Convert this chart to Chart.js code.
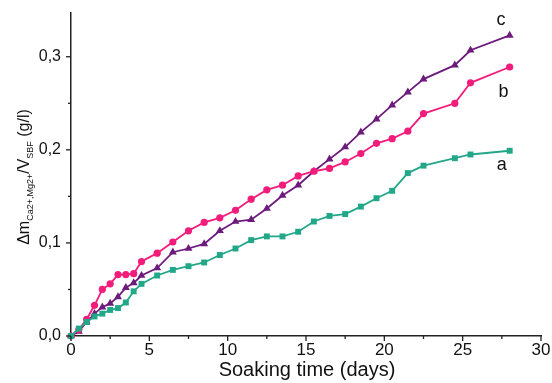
<!DOCTYPE html>
<html>
<head>
<meta charset="utf-8">
<script src="https://cdn.jsdelivr.net/npm/chart.js@4/dist/chart.umd.min.js"></script>
<style>
  html, body { margin: 0; padding: 0; background: #fff; }
  canvas { display: block; }
</style>
</head>
<body>
<canvas id="chart" width="552" height="383"></canvas>
<script>
// soaking time (days), shared by the three curves
const days = [0, 0.5, 1, 1.5, 2, 2.5, 3, 3.5, 4, 4.5, 5.5, 6.5, 7.5, 8.5, 9.5, 10.5,
  11.5, 12.5, 13.5, 14.5, 15.5, 16.5, 17.5, 18.5, 19.5, 20.5, 21.5, 22.5, 24.5, 25.5, 28];

// Δm / V (g/l)
const seriesA = [0, 0.008, 0.015, 0.021, 0.024, 0.028, 0.030, 0.036, 0.048, 0.056, 0.065,
  0.071, 0.075, 0.079, 0.087, 0.094, 0.103, 0.107, 0.107, 0.112, 0.123, 0.129, 0.131,
  0.139, 0.148, 0.156, 0.175, 0.183, 0.191, 0.195, 0.199];
const seriesB = [0, 0.007, 0.018, 0.033, 0.050, 0.056, 0.066, 0.066, 0.067, 0.080, 0.089,
  0.101, 0.113, 0.122, 0.127, 0.135, 0.147, 0.157, 0.162, 0.172, 0.177, 0.180, 0.187,
  0.196, 0.207, 0.212, 0.220, 0.239, 0.250, 0.272, 0.289];
const seriesC = [0, 0.005, 0.015, 0.024, 0.031, 0.035, 0.042, 0.052, 0.057, 0.065, 0.073,
  0.090, 0.094, 0.099, 0.113, 0.123, 0.125, 0.137, 0.151, 0.162, 0.177, 0.190, 0.203,
  0.219, 0.233, 0.248, 0.262, 0.276, 0.291, 0.307, 0.323];

const curveNames = ["a", "b", "c"];
const xTitle = "Soaking time (days)";

const fontFamily = "'Liberation Sans', Arial, sans-serif";
const colors = ["#22a889", "#f21c7b", "#6c1a7c"];

// where the a/b/c labels sit, in data units
const labelAt = [[27.5, 0.184], [27.6, 0.262], [27.45, 0.339]];

function toPoints(vals) {
  return days.map((d, i) => ({ x: d, y: vals[i] }));
}

const onStep = (v, step) => Math.abs(v / step - Math.round(v / step)) < 1e-6;

// tick marks (major + minor) and text that Chart.js can't do natively
const extras = {
  id: "extras",
  afterDraw(chart) {
    const { ctx, scales: { x, y } } = chart;
    ctx.save();
    ctx.strokeStyle = "#222";
    ctx.lineWidth = 1.3;
    x.ticks.forEach(t => {
      const px = x.getPixelForValue(t.value);
      const len = onStep(t.value, 5) ? 5 : 3;
      ctx.beginPath();
      ctx.moveTo(px, x.top);
      ctx.lineTo(px, x.top + len);
      ctx.stroke();
    });
    y.ticks.forEach(t => {
      const py = y.getPixelForValue(t.value);
      const len = onStep(t.value, 0.1) ? 5 : 3;
      ctx.beginPath();
      ctx.moveTo(y.right, py);
      ctx.lineTo(y.right - len, py);
      ctx.stroke();
    });

    // curve labels
    ctx.fillStyle = "#111";
    ctx.font = "18px " + fontFamily;
    ctx.textAlign = "center";
    ctx.textBaseline = "middle";
    curveNames.forEach((n, i) => {
      ctx.fillText(n, x.getPixelForValue(labelAt[i][0]), y.getPixelForValue(labelAt[i][1]));
    });

    // x title
    ctx.font = "20px " + fontFamily;
    ctx.textBaseline = "alphabetic";
    ctx.fillText(xTitle, (chart.chartArea.left + chart.chartArea.right) / 2 + 1, 376);

    // y title with subscripts
    const parts = [["\u0394m", 16, 0], ["Ca2+,Mg2+", 9, 4], ["/V", 16, 0], ["SBF", 9, 4], [" (g/l)", 16, 0]];
    let total = 0;
    parts.forEach(p => { ctx.font = p[1] + "px " + fontFamily; total += ctx.measureText(p[0]).width; });
    ctx.translate(29, 177);
    ctx.rotate(-Math.PI / 2);
    ctx.textAlign = "left";
    let cx = -total / 2;
    parts.forEach(p => {
      ctx.font = p[1] + "px " + fontFamily;
      ctx.fillText(p[0], cx, p[2]);
      cx += ctx.measureText(p[0]).width;
    });
    ctx.restore();
  }
};

const markers = ["rect", "circle", "triangle"];
const radii = [4.2, 3.6, 4.6];

new Chart(document.getElementById("chart"), {
  type: "line",
  data: {
    datasets: [seriesA, seriesB, seriesC].map((s, i) => ({
      label: curveNames[i],
      data: toPoints(s),
      borderColor: colors[i],
      backgroundColor: colors[i],
      borderWidth: 1.8,
      pointStyle: markers[i],
      pointRadius: radii[i],
      pointBorderWidth: 0,
      tension: 0,
      clip: false
    }))
  },
  options: {
    responsive: false,
    animation: false,
    layout: { padding: { top: 13, right: 11, left: 0, bottom: 0 } },
    plugins: { legend: { display: false }, tooltip: { enabled: false } },
    scales: {
      x: {
        type: "linear",
        min: 0, max: 30,
        afterFit: s => { s.height = 47; s.paddingLeft = 0; s.paddingRight = 0; },
        grid: { drawOnChartArea: false, drawTicks: false },
        border: { color: "#222", width: 1.5 },
        ticks: {
          stepSize: 2.5,
          padding: 4,
          color: "#111",
          font: { family: fontFamily, size: 17 },
          callback: v => onStep(v, 5) ? String(v) : ""
        }
      },
      y: {
        min: 0, max: 0.347,
        afterFit: s => { s.width = 71; s.paddingTop = 0; s.paddingBottom = 0; },
        afterBuildTicks: s => { s.ticks = s.ticks.filter(t => onStep(t.value, 0.05)); },
        grid: { drawOnChartArea: false, drawTicks: false },
        border: { color: "#222", width: 1.5 },
        ticks: {
          stepSize: 0.05,
          padding: 10,
          color: "#111",
          font: { family: fontFamily, size: 16 },
          callback: v => onStep(v, 0.1) ? v.toFixed(1).replace(".", ",") : ""
        }
      }
    }
  },
  plugins: [extras]
});
</script>
</body>
</html>
